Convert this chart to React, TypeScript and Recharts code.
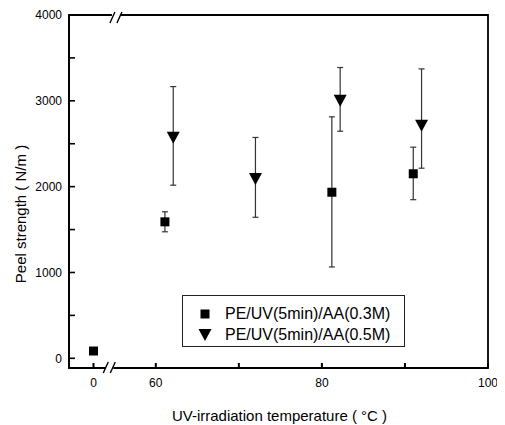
import React from "react";
import {
  ScatterChart,
  Scatter,
  XAxis,
  YAxis,
  ErrorBar,
  ReferenceDot,
  ReferenceArea,
  Legend,
} from "recharts";

// ---- data ----
const sqTemp = [0, 61.1, 81.2, 91.0];
const sqPeel = [85, 1590, 1935, 2150];
const sqLow = [85, 1474, 1064, 1848];
const sqHigh = [85, 1707, 2813, 2460];

const triTemp = [62.1, 72.0, 82.2, 92.0];
const triPeel = [2570, 2088, 3000, 2710];
const triLow = [2017, 1643, 2646, 2215];
const triHigh = [3166, 2573, 3388, 3372];

const seriesNames = ["PE/UV(5min)/AA(0.3M)", "PE/UV(5min)/AA(0.5M)"];

const xTicks = [0, 60, 70, 80, 90, 100];
const xTickLabels: Record<number, string> = { 0: "0", 60: "60", 80: "80", 100: "100" };
const yTicks = [0, 500, 1000, 1500, 2000, 2500, 3000, 3500, 4000];

// broken x axis: 0 is drawn just left of the break
const ZERO_POS = 52.5;
const BREAK_POS = 54.4;
const X_DOMAIN: [number, number] = [49.55, 100];
const Y_DOMAIN: [number, number] = [-113, 4000];

const breakX = (t: number) => (t === 0 ? ZERO_POS : t);
const unbreakX = (v: number) => (v === ZERO_POS ? 0 : v);

const makeData = (t: number[], p: number[], lo: number[], hi: number[]) =>
  t.map((tt, i) => ({
    x: breakX(tt),
    y: p[i],
    err: [p[i] - lo[i], hi[i] - p[i]],
  }));

const sqData = makeData(sqTemp, sqPeel, sqLow, sqHigh);
const triData = makeData(triTemp, triPeel, triLow, triHigh);

const FONT = "'Liberation Sans', Arial, sans-serif";
const AXIS_W = 1.8;

const SquareShape = (props: any) => {
  const { cx, cy } = props;
  return <rect x={cx - 4.5} y={cy - 4.5} width={9} height={9} fill="#000" />;
};

const TriShape = (props: any) => {
  const { cx, cy } = props;
  return (
    <polygon
      points={`${cx - 6.5},${cy - 6} ${cx + 6.5},${cy - 6} ${cx},${cy + 6}`}
      fill="#000"
    />
  );
};

const BreakMark = (props: any) => {
  const { cx, cy, up } = props;
  const a = up ? -3 : -6;
  const b = up ? 8 : 5;
  return (
    <g>
      <rect x={cx - 4} y={cy - 2} width={8} height={4} fill="#fff" />
      <line x1={cx - 6} y1={cy + b} x2={cx - 1} y2={cy + a} stroke="#000" strokeWidth={1.4} />
      <line x1={cx + 1} y1={cy + b} x2={cx + 6} y2={cy + a} stroke="#000" strokeWidth={1.4} />
    </g>
  );
};

const XTitle = (props: any) => {
  const { viewBox } = props;
  const cx = viewBox.x + viewBox.width / 2 + 1;
  const y = viewBox.y + 53;
  return (
    <text x={cx} y={y} textAnchor="middle" fontSize={15} fontFamily={FONT} fill="#000">
      UV-irradiation temperature ( °C )
    </text>
  );
};

const YTitle = (props: any) => {
  const { viewBox } = props;
  const x = viewBox.x + 13;
  const cy = 206;
  return (
    <text
      x={x}
      y={cy}
      dy="0.35em"
      transform={`rotate(-90 ${x} ${cy})`}
      textAnchor="middle"
      fontSize={15}
      fontFamily={FONT}
      fill="#000"
    >
      Peel strength ( N/m )
    </text>
  );
};

const LegendBox = () => (
  <div
    style={{
      position: "relative",
      width: 223,
      height: 52,
      border: "1px solid #222",
      boxSizing: "border-box",
      fontFamily: FONT,
      fontSize: 16,
      color: "#000",
      background: "#fff",
    }}
  >
    {seriesNames.map((name, i) => (
      <div
        key={name}
        style={{
          position: "absolute",
          left: 0,
          top: i === 0 ? 8 : 29,
          height: 20,
          width: 221,
          whiteSpace: "nowrap",
        }}
      >
        <svg width={14} height={14} style={{ position: "absolute", left: 15, top: 3 }}>
          {i === 0 ? (
            <rect x={2.5} y={2.5} width={9} height={9} fill="#000" />
          ) : (
            <polygon points="0.5,1 13.5,1 7,13" fill="#000" />
          )}
        </svg>
        <span style={{ position: "absolute", left: 42, lineHeight: "20px" }}>{name}</span>
      </div>
    ))}
  </div>
);

const tickStyle = { fill: "#000", fontSize: 12, fontFamily: FONT };

export default function App() {
  return (
    <ScatterChart
      width={490}
      height={417}
      margin={{ top: 7, right: 10, bottom: 0, left: 0 }}
      style={{ background: "#fff" }}
    >
      <XAxis
        dataKey="x"
        type="number"
        domain={X_DOMAIN}
        ticks={xTicks.map(breakX)}
        interval={0}
        allowDataOverflow
        height={57}
        stroke="#000"
        tickSize={-5}
        tickMargin={15}
        tickLine={{ stroke: "#000", strokeWidth: 2 }}
        tick={tickStyle}
        tickFormatter={(v: number) => xTickLabels[unbreakX(v)] ?? ""}
        axisLine={{ stroke: "#000", strokeWidth: AXIS_W }}
        label={<XTitle />}
      />
      <YAxis
        dataKey="y"
        type="number"
        domain={Y_DOMAIN}
        ticks={yTicks}
        interval={0}
        allowDataOverflow
        width={61}
        stroke="#000"
        tickSize={-6}
        tickMargin={13}
        tickLine={{ stroke: "#000", strokeWidth: 1.6 }}
        tick={tickStyle}
        tickFormatter={(v: number) => (v % 1000 === 0 ? String(v) : "")}
        axisLine={{ stroke: "#000", strokeWidth: AXIS_W }}
        label={<YTitle />}
      />
      <ReferenceArea
        x1={X_DOMAIN[0]}
        x2={X_DOMAIN[1]}
        y1={Y_DOMAIN[0]}
        y2={Y_DOMAIN[1]}
        fill="none"
        fillOpacity={0}
        stroke="#000"
        strokeWidth={AXIS_W}
        ifOverflow="visible"
      />
      <Legend
        layout="horizontal"
        verticalAlign="middle"
        align="center"
        wrapperStyle={{ left: 174, top: 287, width: 223, height: 52 }}
        content={<LegendBox />}
      />
      <Scatter
        name={seriesNames[0]}
        data={sqData}
        shape={<SquareShape />}
        isAnimationActive={false}
      >
        <ErrorBar dataKey="err" direction="y" width={3} stroke="#333" strokeWidth={1.2} />
      </Scatter>
      <Scatter
        name={seriesNames[1]}
        data={triData}
        shape={<TriShape />}
        isAnimationActive={false}
      >
        <ErrorBar dataKey="err" direction="y" width={3} stroke="#333" strokeWidth={1.2} />
      </Scatter>
      <ReferenceDot
        x={BREAK_POS}
        y={Y_DOMAIN[0]}
        ifOverflow="visible"
        shape={(p: any) => <BreakMark {...p} up={false} />}
      />
      <ReferenceDot
        x={BREAK_POS + 0.8}
        y={Y_DOMAIN[1]}
        ifOverflow="visible"
        shape={(p: any) => <BreakMark {...p} up={true} />}
      />
    </ScatterChart>
  );
}
